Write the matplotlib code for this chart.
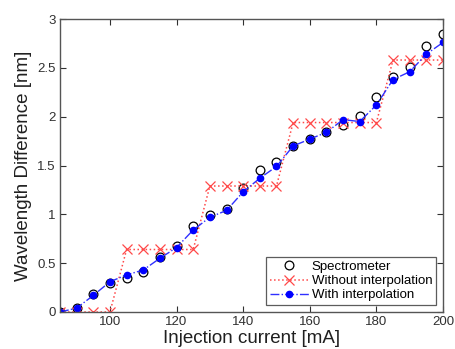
import matplotlib
matplotlib.use("Agg")
import matplotlib.pyplot as plt

current = [85, 90, 95, 100, 105, 110, 115, 120, 125, 130, 135, 140, 145,
           150, 155, 160, 165, 170, 175, 180, 185, 190, 195, 200]
spectrometer = [0.0, 0.04, 0.18, 0.30, 0.35, 0.41, 0.56, 0.68, 0.88, 0.99, 1.05,
                1.27, 1.45, 1.54, 1.70, 1.77, 1.84, 1.91, 2.01, 2.20, 2.41, 2.51,
                2.72, 2.85]
without_interp = [0.0, 0.0, 0.0, 0.0, 0.64, 0.64, 0.64, 0.64, 0.64, 1.29, 1.29,
                  1.29, 1.29, 1.29, 1.94, 1.94, 1.94, 1.94, 1.94, 1.94, 2.58, 2.58,
                  2.58, 2.58]
with_interp = [0.0, 0.04, 0.17, 0.31, 0.38, 0.43, 0.55, 0.66, 0.84, 0.97, 1.04,
               1.23, 1.37, 1.49, 1.70, 1.77, 1.84, 1.97, 1.95, 2.12, 2.38, 2.46,
               2.64, 2.76]
xticks = [100, 120, 140, 160, 180, 200]
yticks = [0, 0.5, 1, 1.5, 2, 2.5, 3]
ytick_labels = ["0", "0.5", "1", "1.5", "2", "2.5", "3"]

plt.rcParams['font.family'] = ['Liberation Sans', 'DejaVu Sans']

fig = plt.figure(figsize=(4.55, 3.49), dpi=100)
ax = fig.add_axes([60/455, 37/349, 383/455, 293/349])

ax.plot(current, spectrometer, linestyle='none', marker='o', markersize=6.3,
        markerfacecolor='none', markeredgecolor='black', markeredgewidth=0.9,
        label='Spectrometer')
ax.plot(current, without_interp, linestyle=':', color='#ff4848', linewidth=1.1,
        marker='x', markersize=6.5, markeredgewidth=0.9, label='Without interpolation')
ax.plot(current, with_interp, linestyle='-.', color='#3030ff', linewidth=1.0,
        marker='o', markersize=4.5, markerfacecolor='blue', markeredgecolor='blue',
        label='With interpolation')

ax.set_xlim(85, 200)
ax.set_ylim(0, 3)
ax.set_xticks(xticks)
ax.set_yticks(yticks)
ax.set_yticklabels(ytick_labels)
ax.tick_params(direction='in', top=True, right=True, length=4, width=0.8,
               labelsize=9.5, colors='#303030', pad=3)
for s in ax.spines.values():
    s.set_color('#555555')
    s.set_linewidth(1.0)

ax.set_xlabel('Injection current [mA]', fontsize=13.5, labelpad=1, color='#202020')
ax.set_ylabel('Wavelength Difference [nm]', fontsize=13.5, labelpad=4, color='#202020')

leg = ax.legend(loc='lower right', fontsize=9.5, frameon=True, fancybox=False,
                edgecolor='#333333', borderaxespad=0.5, handlelength=3.0,
                handletextpad=0.2, borderpad=0.3, labelspacing=0.15)
leg.get_frame().set_linewidth(0.9)

fig.savefig('out.png', dpi=100)
